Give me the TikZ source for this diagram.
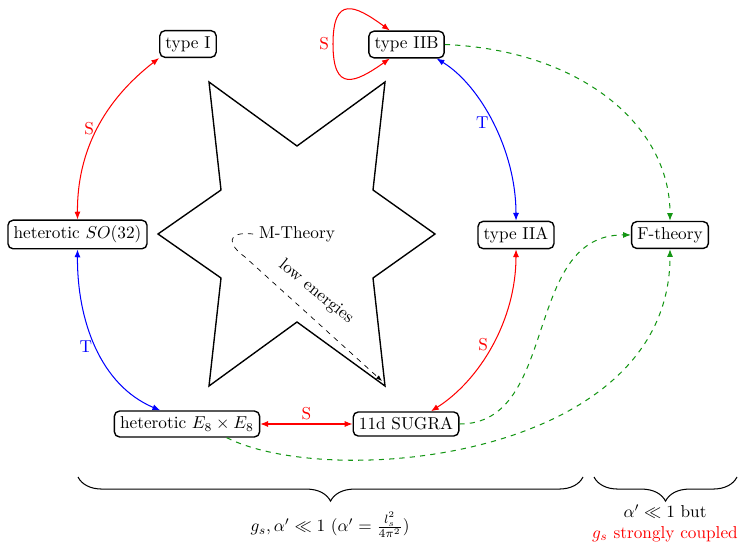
\documentclass[tikz,border=0pt]{standalone}
\usetikzlibrary{arrows.meta,decorations.pathreplacing}
\definecolor{fgreen}{RGB}{20,150,20}
\begin{document}
\begin{tikzpicture}[x=0.58pt,y=-0.58pt,
  box/.style={draw,thick,rounded corners=3pt,inner sep=3.3pt},
  tip/.style={Latex[length=4.5pt,width=3.5pt]},
  rel/.style={semithick,{Latex[length=4.5pt,width=3.5pt]}-{Latex[length=4.5pt,width=3.5pt]}},
  fth/.style={semithick,dashed,draw=fgreen,-{Latex[length=4.5pt,width=3.5pt]}},
  lab/.style={inner sep=2pt},
  brc/.style={semithick,decorate,decoration={brace,amplitude=14pt,mirror}}]
\useasboundingbox (0,0) rectangle (738,543);

% nodes
\node[box] (t1) at (188,44) {type I};
\node[box] (iib) at (406.5,44.5) {type IIB};
\node[box] (so) at (77.5,234.5) {heterotic $SO(32)$};
\node[box] (iia) at (516,235) {type IIA};
\node[box] (ft) at (670,235) {F-theory};
\node[box] (e8) at (187,424) {heterotic $E_8\times E_8$};
\node[box] (sg) at (406,424) {11d SUGRA};

% star
\coordinate (sbr) at (385,386);
\draw[thick] (209,82) -- (297,146) -- (385,82) -- (373,190) -- (435,234) -- (373,278)
  -- (sbr) -- (297,322) -- (209,386) -- (221,278) -- (158,234) -- (221,190) -- cycle;
\node (mt) at (297,234) {M-Theory};
\draw[thin,dashed,-{Latex[length=3.5pt,width=2.5pt]}] (mt.west) .. controls (225,231) and (228,245) .. (245,257) -- ([shift={(-3,-5)}]sbr);
\node[rotate=-39] (le) at (316,292) {low energies};

% dualities
\draw[rel,red] (so.north) .. controls (77,150) and (105,100) .. node[lab,left]{S} (t1.south west);
\draw[rel,blue] (so.south) .. controls (77,320) and (100,385) .. node[lab,left]{T} (e8.153);
\draw[rel,red] (e8.east) -- node[lab,above]{S} (sg.west);
\draw[rel,red] (iia.south) .. controls (516,320) and (480,380) .. node[lab,left]{S} (sg.27);
\draw[rel,blue] (iib.-25) .. controls (480,85) and (516,150) .. node[lab,left]{T} (iia.north);
\draw[rel,red] (iib.140) .. controls (355,5) and (333,-5) .. (333,44) node[lab,left]{S}
  .. controls (333,93) and (355,83) .. (iib.220);

% F-theory
\draw[fth] (iib.east) .. controls (580,50) and (670,125) .. (ft.north);
\draw[fth] (sg.east) .. controls (560,424) and (522,234) .. (ft.west);
\draw[fth] (e8.-19) .. controls (330,490) and (670,460) .. (ft.south);

% braces
\draw[brc] (78,477) -- (583,477);
\draw[brc] (594,477) -- (737,477);
\node (lb) at (330,525) {$g_s,\alpha'\ll 1$ ($\alpha'=\frac{l_s^2}{4\pi^2}$)};
\node[align=center] (rb) at (665,523) {$\alpha'\ll 1$ but\\ \textcolor{red}{$g_s$ strongly coupled}};
\end{tikzpicture}
\end{document}
